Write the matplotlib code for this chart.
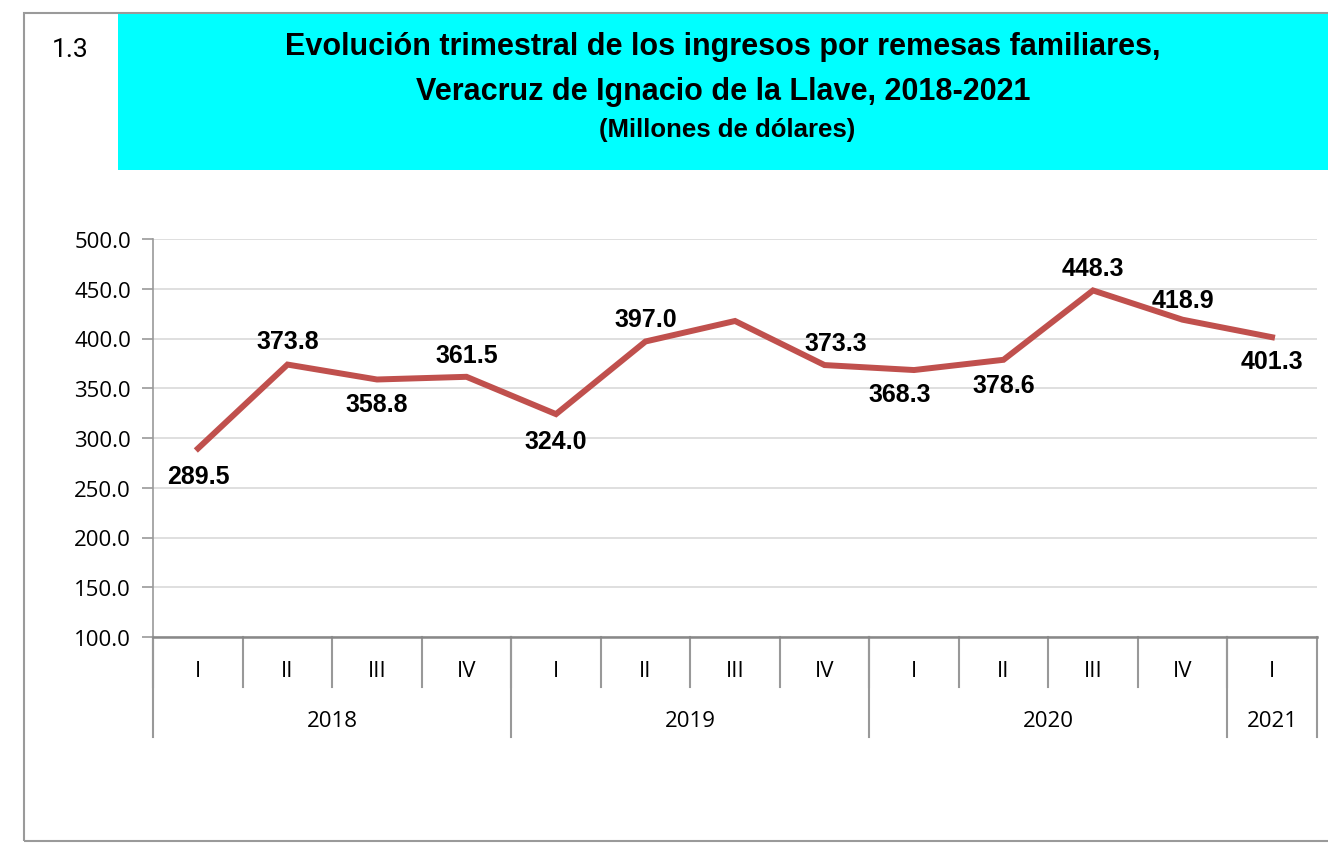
import matplotlib.pyplot as plt
from matplotlib.patches import Rectangle
import matplotlib.transforms as mtransforms

# Data
quarters = ['I', 'II', 'III', 'IV', 'I', 'II', 'III', 'IV', 'I', 'II', 'III', 'IV', 'I']
years = ['2018', '2019', '2020', '2021']
year_sizes = [4, 4, 4, 1]
values = [289.5, 373.8, 358.8, 361.5, 324.0, 397.0, 417.6, 373.3, 368.3, 378.6, 448.3, 418.9, 401.3]
show_label = [True, True, True, True, True, True, False, True, True, True, True, True, True]

# label placement offsets in points (dx, dy)
label_offsets = [(0, -20), (0, 17), (0, -18), (0, 16), (0, -19), (0, 16), (0, 0), (8, 16),
                 (-10, -17), (0, -18), (0, 16), (0, 14), (0, -17)]

fig = plt.figure(figsize=(13.28, 8.45), dpi=100)

# outer frame and cyan title box
fig.patches.append(Rectangle((24 / 1328, 1 - 842 / 845), 1.1, (842 - 14) / 845,
                             transform=fig.transFigure, fill=False, edgecolor='#9a9a9a', linewidth=1.5))
fig.patches.append(Rectangle((118 / 1328, 1 - 171 / 845), 1.0, (171 - 15) / 845,
                             transform=fig.transFigure, facecolor='#00FFFF', edgecolor='none'))

title_font = ['Liberation Sans Narrow', 'Liberation Sans', 'DejaVu Sans']
fig.text(723 / 1328, 1 - 47 / 845, 'Evolución trimestral de los ingresos por remesas familiares,',
         ha='center', va='center', fontsize=22, fontweight='bold', family=title_font)
fig.text(723 / 1328, 1 - 92 / 845, 'Veracruz de Ignacio de la Llave, 2018-2021',
         ha='center', va='center', fontsize=22, fontweight='bold', family=title_font)
fig.text(727 / 1328, 1 - 130 / 845, '(Millones de dólares)',
         ha='center', va='center', fontsize=18.5, fontweight='bold', family=title_font)
fig.text(70 / 1328, 1 - 50 / 845, '1.3', ha='center', va='center', fontsize=19, family='Roboto')

ax = fig.add_axes([153.25 / 1328, 1 - 638 / 845, (1316.75 - 153.25) / 1328, (638 - 240) / 845])
x = list(range(len(values)))
ax.plot(x, values, color='#C0504D', linewidth=4.3, solid_joinstyle='miter')

for i, v in enumerate(values):
    if show_label[i]:
        dx, dy = label_offsets[i]
        ax.annotate(f'{v:.1f}', (i, v), xytext=(dx, dy), textcoords='offset points',
                    ha='center', va='center', fontsize=18, fontweight='bold',
                    family='Liberation Sans')

ax.set_xlim(-0.5, len(values) - 0.5)
ax.set_ylim(100, 500)
ax.set_yticks(range(100, 501, 50))
ax.set_yticklabels([f'{t:.1f}' for t in range(100, 501, 50)], fontsize=16, family='Open Sans')
ax.yaxis.grid(True, color='#d9d9d9', linewidth=1.2)
ax.set_axisbelow(True)
ax.tick_params(axis='y', length=8, color='#999999', width=1.2, pad=8)
ax.set_xticks([])
for s in ['top', 'right']:
    ax.spines[s].set_visible(False)
ax.spines['left'].set_color('#999999')
ax.spines['left'].set_linewidth(1.2)
ax.spines['bottom'].set_color('#888888')
ax.spines['bottom'].set_linewidth(1.8)

# multi-level category axis
trans = mtransforms.blended_transform_factory(ax.transData, ax.transAxes)
q_depth = 50 / 398
y_depth = 100 / 398
for i, q in enumerate(quarters):
    ax.text(i, -34 / 398, q, transform=trans, ha='center', va='center', fontsize=16, family='Open Sans')
    ax.plot([i - 0.5, i - 0.5], [0, -q_depth], transform=trans, color='#999999', linewidth=1.5, clip_on=False)
start = 0
for yr, n in zip(years, year_sizes):
    ax.plot([start - 0.5, start - 0.5], [0, -y_depth], transform=trans, color='#999999', linewidth=1.5, clip_on=False)
    ax.text(start - 0.5 + n / 2, -84 / 398, yr, transform=trans, ha='center', va='center',
            fontsize=16, family='Open Sans')
    start += n
ax.plot([start - 0.5, start - 0.5], [0, -y_depth], transform=trans, color='#999999', linewidth=1.5, clip_on=False)

plt.savefig('out.png', dpi=100)
